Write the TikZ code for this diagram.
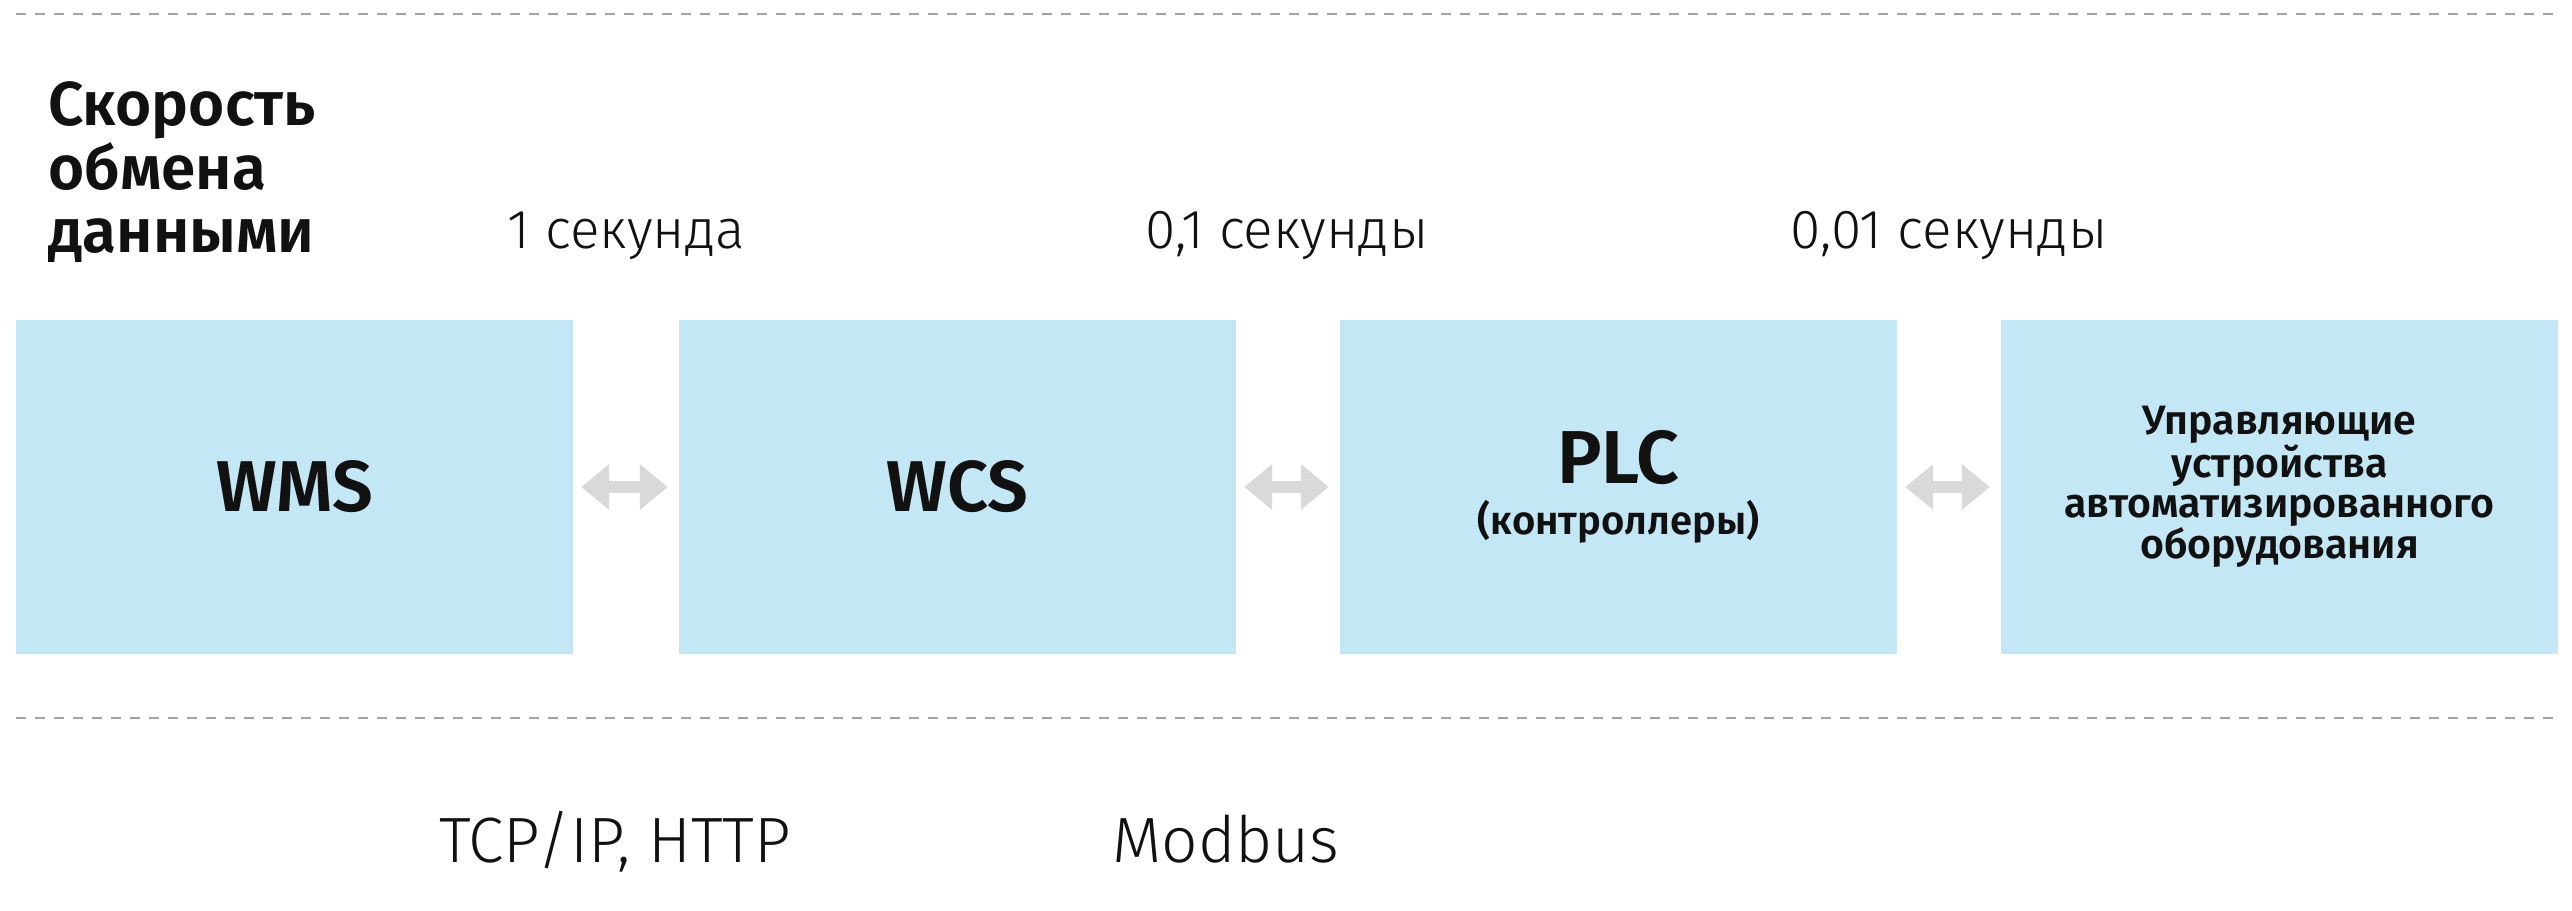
\documentclass[tikz,border=0pt]{standalone}
\usepackage{fontspec}
\setmainfont{Fira Sans}[BoldFont={Fira Sans SemiBold}]
\newfontfamily\lightfont{Fira Sans Light}
\usetikzlibrary{arrows.meta}
\definecolor{boxblue}{HTML}{C4E7F6}
\definecolor{arrgray}{HTML}{D9D9D9}
\definecolor{dashgray}{HTML}{A3A3A3}
\definecolor{ink}{HTML}{111111}
\tikzset{
  sysbox/.style={fill=boxblue, draw=none, minimum width=557pt, minimum height=334pt, inner sep=0pt, align=center, text=ink, font=\fontsize{72}{72}\bfseries},
  sepline/.style={draw=dashgray, line width=2.5pt, dash pattern=on 10pt off 9pt},
  conn/.style={draw=arrgray, line width=12pt, {Triangle[width=44pt,length=28pt]}-{Triangle[width=44pt,length=28pt]}, shorten <=8pt, shorten >=11pt},
  ttl/.style={anchor=base west, inner sep=0pt, text=ink, font=\fontsize{62}{62}\bfseries},
  rate/.style={anchor=base, inner sep=0pt, text=ink, font=\fontsize{55}{55}\lightfont},
  proto/.style={anchor=base, inner sep=0pt, text=ink, font=\fontsize{64}{64}\lightfont}
}
\begin{document}
\begin{tikzpicture}[x=1pt,y=-1pt]
\useasboundingbox (0,0) rectangle (2572,910);
\coordinate (tl) at (16,14);
\coordinate (tr) at (2557,14);
\coordinate (bl) at (16,718);
\coordinate (br) at (2557,718);
\draw[sepline] (tl) -- (tr);
\draw[sepline] (bl) -- (br);

\node[ttl] (t1) at (48,125) {Скорость};
\node[ttl] (t2) at (48,189) {обмена};
\node[ttl] (t3) at (48,252) {данными};

\node[rate] (r1) at (626,248) {1 секунда};
\node[rate] (r2) at (1287,248) {0,1 секунды};
\node[rate] (r3) at (1949,248) {0,01 секунды};

\node[sysbox] (wms) at (294.5,487) {WMS};
\node[sysbox] (wcs) at (957.5,487) {WCS};
\node[sysbox, font=\fontsize{40}{51.5}\bfseries] (plc) at (1618.5,487) {{\fontsize{75}{75}\selectfont PLC}\\(контроллеры)};
\node[sysbox, font=\fontsize{41}{40}\bfseries] (dev) at (2279.5,487) {Управляющие\\устройства\\автоматизированного\\оборудования};

\draw[conn] (wms) -- (wcs);
\draw[conn] (wcs) -- (plc);
\draw[conn] (plc) -- (dev);

\node[proto] (p1) at (615,862) {TCP/IP, HTTP};
\node[proto] (p2) at (1226,862) {Modbus};
\end{tikzpicture}
\end{document}
